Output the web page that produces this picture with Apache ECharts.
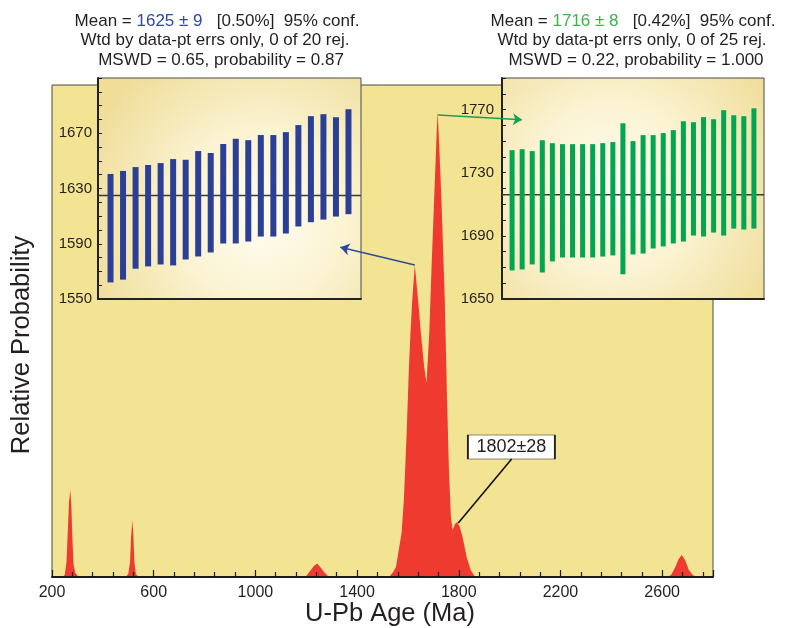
<!DOCTYPE html>
<html><head><meta charset="utf-8">
<script src="https://cdn.jsdelivr.net/npm/echarts@6/dist/echarts.min.js"></script>
<style>html,body{margin:0;padding:0;background:#fff}#c{width:787px;height:628px}</style>
</head><body><div id="c"></div>
<script>
// ---- Main probability density (U-Pb age, Ma) ----
const ageMa = [200,
  240,250,257,262,267,272,276,280,285,292,305,
  490,500,507,511,516,520,524,530,540,
  1190,1200,1215,1230,1243,1255,1270,1285,1295,
  1520,1529,1542,1553,1564,1575,1584,1595,1604,1610,1617,1627,1640,1651,1664,1673,1684,1693,1703,1713,1717,1721,1732,1745,1754,1761,1769,1776,1785,1794,1804,1815,1831,1847,1864,
  2620,2635,2650,2665,2677,2690,2705,2720,2735,
  2800];
const relProb = [0,
  0,2,15,45,75,87,72,40,12,4,0,
  0,3,15,40,57,42,15,3,0,
  0,1,6,11,13.5,10,5,1,0,
  0,1,5,10,27,44,77,144,210,244,277,312,277,244,210,194,244,310,377,444,465,444,377,277,177,110,60,47,53,55,50,40,20,7,0,
  0,2,9,18,22,17,7,2,0,
  0];
const xTicks = {min:200, max:2800, interval:400};

// ---- Left inset: 20 analyses (2-sigma boxes) ----
const leftLo = [1562,1564,1571.9,1573.6,1575,1574.3,1578.6,1580.8,1583.7,1590.2,1590.2,1591.6,1595.2,1595.2,1597.4,1602.5,1605.6,1607.5,1609.7,1611.4];
const leftHi = [1640.5,1642.7,1645.5,1647,1648.4,1651.3,1650.8,1657.1,1655.7,1662.2,1666,1665,1668.7,1668.7,1670.8,1675.9,1682.4,1683.8,1681.6,1687.4];
const leftMean = 1625;
const leftAxis = {min:1550, max:1710, labelStep:40};

// ---- Right inset: 25 analyses ----
const rightLo = [1668.1,1668.7,1671.9,1666.8,1673.8,1676.3,1676.3,1676.3,1676.3,1676.9,1677.6,1665.6,1678.2,1678.8,1682,1683.3,1685.2,1686.4,1690.2,1689.6,1692.1,1690.2,1694.6,1694,1694.6];
const rightHi = [1744.3,1744.9,1743.7,1750.6,1748.7,1748.1,1748.1,1748.1,1748.1,1748.7,1749.4,1761.4,1750,1753.8,1753.8,1755.1,1757,1762.6,1762,1765.2,1763.9,1769.6,1766.4,1765.8,1770.8];
const rightMean = 1716;
const rightAxis = {min:1650, max:1790, labelStep:40};

// ---- Annotations ----
const peak1 = [1627, 312], peak2 = [1717, 465];
const blueTarget = [19.35, 1587.4];   // in left-inset coords
const greenTarget = [1.98, 1763.6];   // in right-inset coords
const peak3Label = '1802±28';
const peak3Point = [1798, 54], peak3LabelAt = [2007, 130], peak3LineEnd = [2008, 118];

const FONT = '"Liberation Sans", Arial, Helvetica, sans-serif';
const TXT = '#231f20';
const BLUE = '#2b3f96', GREEN = '#00a651', RED = '#ee3a2f';

const chart = echarts.init(document.getElementById('c'));

function insetBg(cx, cy){
  return {type:'radial', x:cx, y:cy, r:0.85, colorStops:[
    {offset:0, color:'#fffdf2'},{offset:0.45,color:'#fbf3d2'},{offset:1, color:'#efdd98'}]};
}
function boxes(color, w){
  return function(params, api){
    const hi = api.coord([api.value(0), api.value(2)]);
    const lo = api.coord([api.value(0), api.value(1)]);
    return {type:'rect', shape:{x:hi[0]-w/2, y:hi[1], width:w, height:lo[1]-hi[1]}, style:{fill:color}};
  };
}
function insetYAxis(idx, ax, margin){
  return {gridIndex:idx, type:'value', min:ax.min, max:ax.max, interval:10,
    axisLine:{show:true, lineStyle:{color:'#222', width:2}},
    axisTick:{show:true, inside:true, length:4, lineStyle:{color:'#222'}},
    axisLabel:{margin:margin, fontSize:15, fontFamily:FONT, color:TXT,
      formatter:v => ((v-ax.min)%ax.labelStep===0 && v<ax.max) ? String(v) : ''},
    splitLine:{show:false}};
}
function insetXAxis(idx, n){
  return {gridIndex:idx, type:'value', min:0, max:n+1,
    axisLine:{show:true, onZero:false, lineStyle:{color:'#222', width:2}},
    axisTick:{show:false}, axisLabel:{show:false}, splitLine:{show:false}};
}
function titleLine(x, y, text, rich){
  return {type:'text', x:x, y:y, z:100, style:{text:text, align:'center', textAlign:'center',
    verticalAlign:'middle', textVerticalAlign:'middle', rich:rich}};
}
const richL = {t:{fontSize:17, fontFamily:FONT, fill:TXT}, b:{fontSize:17, fontFamily:FONT, fill:'#2e4a9e'}};
const richR = {t:{fontSize:17, fontFamily:FONT, fill:TXT}, g:{fontSize:17, fontFamily:FONT, fill:'#3db449'}};

const option = {
  animation:false,
  backgroundColor:'#ffffff',
  grid:[
    {left:52, top:85, width:661, height:492, show:true, backgroundColor:'#f3e493', borderColor:'#4a4a4a', borderWidth:1},
    {left:98, top:78, width:263, height:221, show:true, backgroundColor:insetBg(0.62,0.62), borderColor:'#4a4a4a', borderWidth:1},
    {left:502, top:78, width:262, height:221, show:true, backgroundColor:insetBg(0.42,0.5), borderColor:'#4a4a4a', borderWidth:1}
  ],
  xAxis:[
    {gridIndex:0, type:'value', z:10, min:xTicks.min, max:xTicks.max, interval:xTicks.interval,
      axisLine:{show:true, onZero:false, lineStyle:{color:'#1a1a1a', width:2}},
      axisTick:{show:true, inside:true, length:7, lineStyle:{color:'#1a1a1a', width:1.2}},
      minorTick:{show:true, splitNumber:5, length:5, lineStyle:{color:'#1a1a1a', width:1.2}},
      axisLabel:{fontSize:16, fontFamily:FONT, color:TXT, margin:8, showMaxLabel:false, formatter:v => String(v)},
      splitLine:{show:false}},
    insetXAxis(1, leftLo.length),
    insetXAxis(2, rightLo.length)
  ],
  yAxis:[
    {gridIndex:0, type:'value', min:0, max:492, axisLine:{show:false}, axisTick:{show:false}, axisLabel:{show:false}, splitLine:{show:false}},
    insetYAxis(1, leftAxis, 6),
    insetYAxis(2, rightAxis, 8)
  ],
  graphic:[
    titleLine(217, 21, '{t|Mean = }{b|1625 ± 9}{t|   [0.50%]  95% conf.}', richL),
    titleLine(215, 40, '{t|Wtd by data-pt errs only, 0 of 20 rej.}', richL),
    titleLine(221, 60, '{t|MSWD = 0.65, probability = 0.87}', richL),
    titleLine(633, 21, '{t|Mean = }{g|1716 ± 8}{t|   [0.42%]  95% conf.}', richR),
    titleLine(632, 40, '{t|Wtd by data-pt errs only, 0 of 25 rej.}', richR),
    titleLine(636, 60, '{t|MSWD = 0.22, probability = 1.000}', richR),
    {type:'text', x:390, y:614, style:{text:'U-Pb Age (Ma)', font:'25.5px '+FONT, fill:TXT, align:'center', textAlign:'center', verticalAlign:'middle', textVerticalAlign:'middle'}},
    {type:'text', x:22, y:345, rotation:Math.PI/2, style:{text:'Relative Probability', font:'25.5px '+FONT, fill:TXT, align:'center', textAlign:'center', verticalAlign:'middle', textVerticalAlign:'middle'}}
  ],
  series:[
    {id:'pdf', type:'line', xAxisIndex:0, yAxisIndex:0, z:5, symbol:'none', smooth:false,
      data: ageMa.map((a,i)=>[a, relProb[i]]),
      lineStyle:{color:RED, width:0}, areaStyle:{color:RED, opacity:1},
      markPoint:{symbol:'rect', symbolSize:[87,24], silent:true,
        itemStyle:{color:'#ffffff', borderColor:TXT, borderWidth:1},
        label:{show:true, position:'inside', formatter:peak3Label, color:TXT, fontSize:18, fontFamily:FONT},
        data:[{coord:peak3LabelAt}]}},
    {id:'lead', type:'lines', coordinateSystem:'cartesian2d', xAxisIndex:0, yAxisIndex:0, z:6, silent:true,
      symbol:['none','none'], lineStyle:{color:'#111', width:1.6, opacity:1},
      data:[{coords:[peak3Point, peak3LineEnd]}]},
    {id:'leftMean', type:'line', xAxisIndex:1, yAxisIndex:1, z:3, symbol:'none', silent:true,
      data:[[0,leftMean],[leftLo.length+1,leftMean]], lineStyle:{color:'#3a3a3a', width:1.5}},
    {id:'leftBoxes', type:'custom', xAxisIndex:1, yAxisIndex:1, z:4, renderItem:boxes(BLUE,6),
      encode:{x:0, y:[1,2]}, data:leftLo.map((lo,i)=>[i+1, lo, leftHi[i]])},
    {id:'rightMean', type:'line', xAxisIndex:2, yAxisIndex:2, z:3, symbol:'none', silent:true,
      data:[[0,rightMean],[rightLo.length+1,rightMean]], lineStyle:{color:'#3a3a3a', width:1.5}},
    {id:'rightBoxes', type:'custom', xAxisIndex:2, yAxisIndex:2, z:4, renderItem:boxes(GREEN,5),
      encode:{x:0, y:[1,2]}, data:rightLo.map((lo,i)=>[i+1, lo, rightHi[i]])},
    {id:'arrowBlue', type:'lines', coordinateSystem:'cartesian2d', xAxisIndex:0, yAxisIndex:0, z:20, silent:true,
      symbol:['none','arrow'], symbolSize:9, lineStyle:{color:'#2e4a9e', width:1.6, opacity:1}, data:[]},
    {id:'arrowGreen', type:'lines', coordinateSystem:'cartesian2d', xAxisIndex:0, yAxisIndex:0, z:20, silent:true,
      symbol:['none','arrow'], symbolSize:9, lineStyle:{color:'#1aa055', width:1.6, opacity:1}, data:[]}
  ]
};
chart.setOption(option);

const bPx = chart.convertToPixel({gridIndex:1}, blueTarget);
const gPx = chart.convertToPixel({gridIndex:2}, greenTarget);
const bEnd = chart.convertFromPixel({gridIndex:0}, bPx);
const gEnd = chart.convertFromPixel({gridIndex:0}, gPx);
chart.setOption({series:[
  {id:'arrowBlue', data:[{coords:[peak1, bEnd]}]},
  {id:'arrowGreen', data:[{coords:[[peak2[0]+1, peak2[1]-3], gEnd]}]}
]});
</script></body></html>
